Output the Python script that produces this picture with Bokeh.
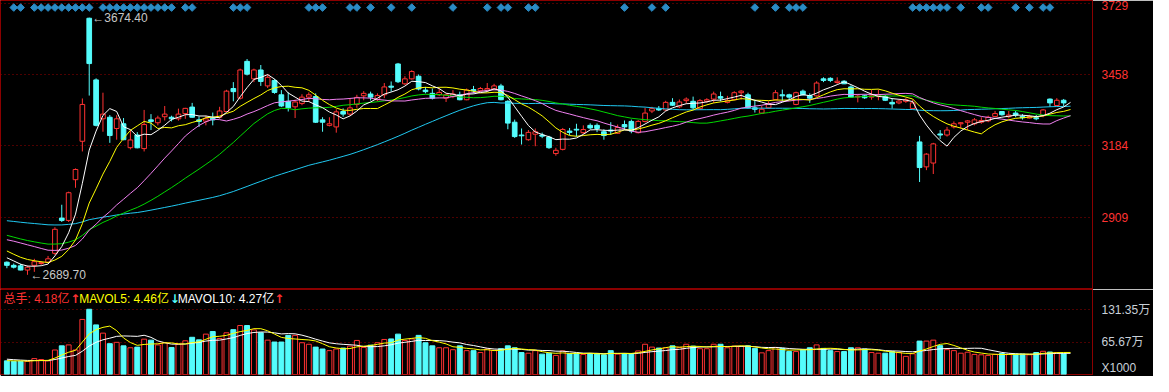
import numpy as np
from bokeh.plotting import figure
from bokeh.models import Range1d, FixedTicker, ColumnDataSource
from bokeh.layouts import column
from bokeh.embed import file_html
from bokeh.resources import INLINE
from bokeh.core.properties import value

# ---------------- data ----------------
open_ = [2738, 2726, 2724, 2708, 2726, 2733, 2738, 2772, 2907, 2898,
         3054, 3201, 3672, 3436, 3287, 3293, 3250, 3268, 3176.5, 3225,
         3173, 3283, 3272, 3295, 3293, 3287, 3307, 3332, 3283, 3278,
         3289, 3293, 3315, 3403, 3366, 3507, 3440, 3474, 3413, 3434,
         3379, 3354, 3333, 3346, 3370, 3372, 3283, 3262, 3256, 3315,
         3305, 3342, 3375, 3382, 3360, 3379, 3412, 3497, 3421, 3440,
         3450, 3397, 3384.5, 3379, 3366, 3372, 3379, 3360, 3399, 3394.5,
         3397, 3401, 3413, 3354, 3274, 3225, 3207, 3228, 3225, 3217,
         3154, 3170, 3240, 3247, 3234, 3262, 3262, 3237.5, 3244, 3231.6,
         3265, 3277, 3234, 3277, 3317, 3327, 3321, 3350, 3333, 3356.6,
         3354, 3325.7, 3354, 3362.5, 3372, 3350, 3360, 3387, 3379, 3329,
         3309, 3329, 3360, 3379, 3379, 3342, 3393, 3376, 3375, 3440,
         3442, 3426, 3431, 3409, 3370.6, 3375, 3370, 3372, 3372, 3350,
         3348, 3354, 3326, 3198.5, 3103, 3117.7, 3229, 3225, 3256, 3268,
         3274, 3268, 3274, 3279, 3296, 3315, 3295, 3309, 3296, 3290,
         3291, 3299, 3362.5, 3338, 3358, 3360]
high = [2741, 2733, 2732, 2725, 2751, 2742, 2762, 2872, 2958, 3008,
        3097, 3365, 3674.4, 3442, 3387, 3301.5, 3301, 3290, 3244, 3236,
        3321, 3305, 3299, 3336, 3299, 3326, 3329, 3348, 3296, 3299,
        3311, 3333, 3398, 3427.5, 3479, 3516, 3479, 3493, 3457, 3439,
        3397, 3388, 3360, 3381, 3388, 3384.5, 3293, 3293, 3323.5, 3327,
        3366, 3379, 3393, 3391, 3384.5, 3424, 3430, 3501, 3450, 3473,
        3457, 3409, 3403, 3403, 3383, 3397, 3391, 3403, 3413, 3409,
        3424, 3421, 3421, 3358, 3284, 3250, 3244, 3250, 3234, 3222,
        3176, 3252, 3252, 3268, 3262, 3269.5, 3269.5, 3247, 3274, 3265,
        3280.5, 3284, 3282, 3329, 3333, 3336, 3356, 3366, 3361, 3369,
        3372, 3363, 3366, 3391, 3391, 3375, 3392.6, 3397, 3387, 3360,
        3336, 3354, 3397, 3399, 3383, 3391, 3399, 3384.5, 3431, 3446,
        3446, 3446, 3435, 3415.5, 3382, 3380, 3397, 3399, 3379, 3366,
        3360, 3366, 3360, 3221.7, 3155.5, 3195, 3244, 3256, 3277, 3274,
        3282, 3290, 3293, 3299, 3317, 3317, 3317, 3317, 3305, 3302.6,
        3301.5, 3324.6, 3365, 3366, 3363, 3381]
low = [2715, 2714, 2707, 2689.7, 2701, 2728, 2736, 2766, 2892, 2892,
       3023, 3162, 3376, 3258, 3237.5, 3195, 3207, 3205, 3170, 3174,
       3162, 3244, 3262, 3280.5, 3277, 3280, 3287, 3291, 3256, 3262,
       3262, 3288, 3314, 3354, 3361, 3453, 3427.5, 3413, 3405, 3383,
       3332, 3315, 3290, 3339, 3354, 3271, 3237.5, 3258, 3234, 3295,
       3299, 3329, 3358, 3357, 3354, 3366, 3391, 3424, 3416.5, 3437,
       3396, 3384.5, 3361, 3374, 3351.5, 3366, 3358, 3358, 3384.5, 3391,
       3391, 3397, 3358, 3247, 3214, 3188.6, 3203, 3182, 3213, 3172,
       3145.6, 3166, 3225, 3219, 3229, 3247, 3236, 3207, 3225, 3229,
       3244, 3231.6, 3231, 3273, 3309, 3317, 3317, 3336, 3328, 3346,
       3323.5, 3323, 3348, 3348, 3354, 3346, 3358, 3360, 3326, 3311,
       3306, 3326, 3358, 3354, 3360, 3339, 3376, 3348, 3372, 3427.5,
       3427.5, 3421, 3420, 3367, 3350, 3363, 3360, 3358, 3355, 3326,
       3343, 3348, 3323.5, 3045, 3090.5, 3075.7, 3210, 3219, 3250, 3250,
       3244, 3262, 3268, 3274, 3293, 3299, 3289, 3293, 3284, 3288,
       3281.6, 3293, 3333, 3336, 3336, 3358]
close = [2726, 2719, 2708, 2719, 2740, 2736.5, 2751, 2864, 2898, 3004,
         3093, 3342, 3498.5, 3262, 3305, 3223, 3287, 3207, 3206, 3176,
         3265, 3277, 3290, 3305, 3287, 3305, 3327, 3293, 3277, 3287,
         3283, 3317, 3393, 3391, 3474, 3458, 3474, 3430, 3446, 3388,
         3336, 3329, 3351.5, 3370, 3379, 3274, 3274, 3268, 3313.6, 3305,
         3329, 3369, 3384.5, 3370, 3376, 3409, 3408, 3429, 3440, 3468,
         3401, 3391, 3366, 3388, 3379, 3382, 3360, 3397, 3394.5, 3403,
         3403, 3413, 3360, 3270.6, 3219, 3222, 3235, 3237.5, 3220.6, 3176.5,
         3166.5, 3246, 3235, 3244, 3246, 3252, 3250, 3223, 3240, 3253.7,
         3256, 3240, 3277, 3309, 3326, 3321, 3350, 3339, 3351.5, 3362.5,
         3329, 3356.6, 3360, 3382, 3366, 3356.6, 3387, 3393, 3329, 3323.5,
         3323.5, 3344, 3387, 3375, 3370, 3387, 3379, 3366, 3424, 3434,
         3434, 3431, 3421, 3370, 3374, 3367.6, 3375, 3377, 3358, 3344,
         3355, 3360, 3348, 3100.4, 3151.8, 3191, 3225, 3244, 3268, 3272,
         3279, 3283, 3280.5, 3293, 3307, 3302.6, 3301.5, 3301.5, 3291, 3296,
         3287, 3321, 3348, 3358, 3348, 3375]
# closes before the visible window (estimated from where the MA lines start)
prior_close = [2885, 2890, 2880, 2875, 2885, 2895, 2900, 2890, 2880,
               2920, 2950, 2975, 2990, 3005, 3010, 3000, 2995, 3010, 3020,
               3005, 2990, 2985, 2995, 2980, 2970, 2975, 2960, 2955, 2960, 2950,
               2930, 2915, 2900, 2890, 2880, 2870, 2860, 2850, 2835, 2820,
               2830, 2845, 2860, 2875, 2880, 2885, 2880, 2870, 2865, 2880,
               2845, 2825, 2800, 2790, 2775,
               2780, 2770, 2755, 2744]
# volume in units of 万 (x1000)
volume = [27.6, 26.4, 26.4, 26.4, 32.2, 30.3, 27.6, 49.6, 58, 59.9,
          49.6, 111.4, 132, 100.4, 83.7, 62.4, 65.1, 58, 54.1, 55.4,
          71.5, 69.5, 59.9, 64.3, 54.7, 61.2, 68.2, 75.3, 70.1, 81.7,
          86.9, 72.8, 84.4, 90.8, 99.1, 99.1, 90.2, 84.4, 69.5, 65.7,
          65.7, 79.2, 79.2, 64.3, 61.2, 55.4, 51.6, 48.3, 51.6, 53.5,
          57.4, 68.9, 54.7, 59.3, 64.3, 70.9, 72, 81.7, 68.9, 72,
          79.2, 64.3, 58, 54.1, 54.1, 50.2, 58, 48.3, 48.3, 44.4,
          51.6, 48.9, 52.2, 58, 54.1, 44.4, 43.1, 48.3, 41.2, 43.1,
          38.6, 47.7, 41.9, 43.1, 40.6, 42.5, 41.9, 39.9, 48.3, 41.2,
          41.9, 41.9, 47.7, 61.2, 55.4, 53.5, 54.1, 58, 55, 61.2,
          57.4, 52.2, 52.2, 61.2, 61.2, 54.1, 57.4, 56.7, 58, 52.8,
          43.8, 48.3, 54.7, 52.8, 46.4, 46.4, 50.2, 54.1, 59.9, 52.8,
          48.3, 46.4, 46.4, 54.1, 54.1, 51.5, 44.4, 43.1, 43.1, 46.4,
          44.4, 36.7, 41.9, 67.6, 67.6, 69.5, 58.4, 50.2, 48.3, 43.1,
          45.1, 40.6, 39.9, 38.6, 40.6, 42.5, 40.6, 41.2, 41.2, 39.9,
          44.5, 47.0, 45.5, 44.0, 41.8]
prior_volume = [36, 35, 33, 34, 32, 28, 27, 29, 28]
signal_idx = [1, 2, 4, 5, 6, 7, 8, 9, 10, 11, 12, 14, 15, 16, 17, 18, 19, 20, 21, 22, 23, 24,
              26, 27, 33, 34, 35, 44, 45, 46, 50, 51, 53, 56, 59, 65, 70, 72, 73, 76, 77,
              90, 94, 96, 109, 112, 114, 115, 116, 132, 133, 134, 135, 136, 137, 139,
              142, 143, 147, 149, 151, 152]
price_ticks = [2909, 3184, 3458, 3729]
vol_ticks = [65.67, 131.35]
vol_tick_labels = ["65.67万", "131.35万"]
unit_tick = 14
unit_label = "X1000"
header_texts = ["总手: 4.18亿", "MAVOL5: 4.46亿", "MAVOL10: 4.27亿"]
header_arrows = ["↑", "↓", "↑"]

# ---------------- styling ----------------
BG = "#000000"
UP = "#FF3232"
DOWN = "#54FCFC"
GRID = "#9A0000"
FRAME = "#8B0000"
MA_COLORS = {5: "#FFFFFF", 10: "#FFFF00", 20: "#F080F0", 30: "#00D800", 60: "#20C8F0"}
FONT = "Liberation Sans, Noto Sans CJK SC"

N = len(close)
idx = list(range(N))
is_up = [c >= o for o, c in zip(open_, close)]
col = [UP if u else DOWN for u in is_up]
fill = [BG if u else DOWN for u in is_up]

all_close = prior_close + close
P = len(prior_close)
def ma(n):
    return [float(np.mean(all_close[P + i - n + 1:P + i + 1])) for i in range(N)]

all_vol = prior_volume + volume
PV = len(prior_volume)
def mavol(n):
    return [float(np.mean(all_vol[PV + i - n + 1:PV + i + 1])) for i in range(N)]

W = 1153
RB = 56
H1 = 289
H2 = 87
x_range = Range1d(-0.93, 158.2)

src = ColumnDataSource(dict(x=idx, o=open_, h=high, l=low, c=close,
                            top=[max(a, b) for a, b in zip(open_, close)],
                            bot=[min(a, b) for a, b in zip(open_, close)],
                            col=col, fill=fill, vol=volume))

def style(p, grid_ticks, axis_ticks, color, size="12px"):
    p.background_fill_color = BG
    p.border_fill_color = BG
    p.outline_line_color = FRAME
    p.xgrid.visible = False
    p.ygrid.ticker = FixedTicker(ticks=grid_ticks)
    p.ygrid.grid_line_color = GRID
    p.ygrid.grid_line_dash = "1 3"
    ax = p.yaxis[0]
    ax.ticker = FixedTicker(ticks=axis_ticks)
    ax.major_tick_line_color = None
    ax.minor_tick_line_color = None
    ax.axis_line_color = FRAME
    ax.major_label_text_color = color
    ax.major_label_text_font = FONT
    ax.major_label_text_font_size = size
    ax.major_label_standoff = 3

# ---------------- price pane ----------------
p1 = figure(width=W, height=H1, x_range=x_range, y_range=Range1d(2633.5, 3740),
            output_backend="svg", toolbar_location=None, x_axis_location=None,
            y_axis_location="right", min_border_left=0, min_border_top=0,
            min_border_bottom=0, min_border_right=RB)
style(p1, price_ticks, price_ticks, "#FF3333")

p1.scatter(x=signal_idx, y=3713, marker="square", angle=0.785, size=5.4,
           color="#2A8CC6")
p1.segment(x0="x", y0="h", x1="x", y1="l", color="col", line_width=1, source=src)
p1.vbar(x="x", top="top", bottom="bot", width=0.68, fill_color="fill",
        line_color="col", line_width=1, source=src)
for n in [60, 30, 20, 10, 5]:
    p1.line(idx, ma(n), color=MA_COLORS[n], line_width=1)

ih = int(np.argmax(high))
il = int(np.argmin(low))
p1.text(x=[ih + 0.45], y=[high[ih]], text=["←%.2f" % high[ih]], text_color="#C8C8C8",
        text_font=value(FONT), text_font_size="12px", text_baseline="middle")
p1.text(x=[il + 0.45], y=[low[il]], text=["←%.2f" % low[il]], text_color="#C8C8C8",
        text_font=value(FONT), text_font_size="12px", text_baseline="middle")

# ---------------- volume pane ----------------
p2 = figure(width=W, height=H2, x_range=x_range, y_range=Range1d(0, 172),
            output_backend="svg", toolbar_location=None, x_axis_location=None,
            y_axis_location="right", min_border_left=0, min_border_top=0,
            min_border_bottom=2, min_border_right=RB)
style(p2, vol_ticks, [unit_tick] + vol_ticks, "#C8D0D8")
overrides = {t: s for t, s in zip(vol_ticks, vol_tick_labels)}
overrides[unit_tick] = unit_label
p2.yaxis[0].major_label_overrides = overrides

p2.vbar(x="x", top="vol", bottom=0, width=0.72, fill_color="fill", line_color="col",
        line_width=1, source=src)
p2.line(idx, mavol(10), color="#FFFFFF", line_width=1)
p2.line(idx, mavol(5), color="#FFFF00", line_width=1)

frame_w = W - RB
def px2x(px):
    return x_range.start + px * (x_range.end - x_range.start) / frame_w

header_px = [3, 79, 178]
arrow_px = [70, 170, 275]
header_colors = [UP, "#FFFF00", "#FFFFFF"]
arrow_colors = [UP, DOWN, UP]
p2.text(x=[px2x(v) for v in header_px], y=152, text=header_texts, text_color=header_colors,
        text_font=value(FONT), text_font_size="12px", text_baseline="middle")
p2.text(x=[px2x(v) for v in arrow_px], y=152, text=header_arrows, text_color=arrow_colors,
        text_font=value("DejaVu Sans"), text_font_size="12px", text_font_style="bold",
        text_baseline="middle")

layout = column(p1, p2, spacing=0)
open("out.html", "w").write(file_html(layout, INLINE))
